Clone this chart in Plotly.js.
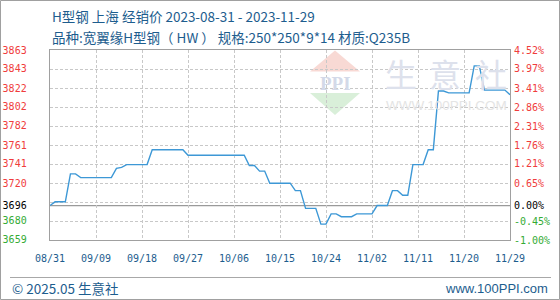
<!DOCTYPE html>
<html>
<head>
<meta charset="utf-8">
<script src="https://cdn.plot.ly/plotly-3.0.1.min.js"></script>
<style>
html,body{margin:0;padding:0;background:#fff;}
#chart{width:560px;height:300px;}
</style>
</head>
<body>
<div id="chart"></div>
<script>
// ---- data ----
const startDate = '2023-08-31';
const endDate = '2023-11-29';
const prices = [
  3696, 3700, 3700, 3700, 3730, 3730, 3726, 3726, 3726, 3726,
  3726, 3726, 3726, 3736, 3737, 3740, 3740, 3740, 3740, 3740,
  3756, 3756, 3756, 3756, 3756, 3756, 3756, 3750, 3750, 3750,
  3750, 3750, 3750, 3750, 3750, 3750, 3750, 3750, 3750, 3739,
  3739, 3733, 3733, 3720, 3720, 3720, 3720, 3720, 3712, 3712,
  3693, 3693, 3693, 3676, 3676, 3687, 3687, 3684, 3684, 3684,
  3687, 3687, 3687, 3687, 3696, 3696, 3696, 3712, 3712, 3707,
  3707, 3740, 3740, 3740, 3756, 3756, 3819, 3819, 3817, 3817,
  3817, 3817, 3817, 3846, 3846, 3820, 3820, 3820, 3820, 3820,
  3815
];
const basePrice = 3696;
const leftTickValues = [3659, 3680, 3696, 3720, 3741, 3761, 3782, 3802, 3822, 3843, 3863];
const rightTickValues = [-1.00, -0.45, 0.00, 0.65, 1.21, 1.76, 2.31, 2.86, 3.41, 3.97, 4.52];
const pctMin = -1.00, pctMax = 4.52, gridCount = 10;
const xTickStepDays = 9;
const title1 = 'H型钢 上海 经销价 2023-08-31 - 2023-11-29';
const title2 = '品种:宽翼缘H型钢（ HW ） 规格:250*250*9*14 材质:Q235B';
const footerLeft = '© 2025.05 生意社';
const footerRight = 'www.100PPI.com';

// ---- build ----
const dates = [];
{
  const d0 = new Date(startDate + 'T00:00:00Z');
  for (let i = 0; i < prices.length; i++) {
    const d = new Date(d0.getTime() + i * 86400000);
    dates.push(d.toISOString().slice(0, 10));
  }
}
const RED = '#f03c3c', GREEN = '#34ab34', BLACK = '#000000';
const colorFor = v => v > basePrice ? RED : (v < basePrice ? GREEN : BLACK);
const leftText = leftTickValues.map(v => `<span style="color:${colorFor(v)}">${v}</span>`);
const rightText = rightTickValues.map(p => {
  const c = p > 0 ? RED : (p < 0 ? GREEN : BLACK);
  return `<span style="color:${c}">${p.toFixed(2)}%</span>`;
});
const yMin = Math.min(basePrice * (1 + pctMin / 100), leftTickValues[0]) - 0.01;
const yMax = Math.max(basePrice * (1 + pctMax / 100), leftTickValues[leftTickValues.length - 1]) + 0.01;

// pixel helpers for layout decorations (plot area 50..510 x, 50..240 y)
const PL = 50, PR = 510, PT = 50, PB = 240;
const px = x => (x - PL) / (PR - PL);
const py = y => (PB - y) / (PB - PT);

const TXT = '#1d5d8e';
const tickFont = {family: 'DejaVu Sans Mono, monospace', size: 10};
const gridColor = '#c8c8c8';

const traces = [
  {x: dates, y: prices, type: 'scatter', mode: 'lines',
   line: {color: '#3d98d6', width: 1.4}, hoverinfo: 'skip', showlegend: false},
  {x: [dates[0]], y: [0], yaxis: 'y2', type: 'scatter', mode: 'none', hoverinfo: 'skip', showlegend: false},
  {x: [dates[0]], y: [0], yaxis: 'y3', type: 'scatter', mode: 'none', hoverinfo: 'skip', showlegend: false}
];

const annotations = [
  {text: title1, xref: 'paper', yref: 'paper', x: px(50), y: py(16), xanchor: 'left', yanchor: 'middle',
   showarrow: false, font: {family: 'Noto Sans CJK SC, sans-serif', size: 13.5, color: TXT}},
  {text: title2, xref: 'paper', yref: 'paper', x: px(50), y: py(37.5), xanchor: 'left', yanchor: 'middle',
   showarrow: false, font: {family: 'Noto Sans CJK SC, sans-serif', size: 13.5, color: TXT}},
  {text: footerLeft, xref: 'paper', yref: 'paper', x: px(10), y: py(288), xanchor: 'left', yanchor: 'middle',
   showarrow: false, font: {family: 'Noto Sans CJK SC, sans-serif', size: 13.5, color: TXT}},
  {text: footerRight, xref: 'paper', yref: 'paper', x: px(550), y: py(288), xanchor: 'right', yanchor: 'middle',
   showarrow: false, font: {family: 'Liberation Sans, sans-serif', size: 13, color: TXT}},
  // watermark
  {text: '<b>PPI</b>', xref: 'paper', yref: 'paper', x: px(335), y: py(83.5), xanchor: 'center', yanchor: 'middle',
   showarrow: false, font: {family: 'Liberation Serif, serif', size: 19, color: '#d3d9e8'}},
  {text: '生', xref: 'paper', yref: 'paper', x: px(400.5), y: py(73), xanchor: 'center', yanchor: 'middle',
   showarrow: false, font: {family: 'Noto Sans CJK SC, sans-serif', size: 32, color: '#dde1ec'}},
  {text: '意', xref: 'paper', yref: 'paper', x: px(445), y: py(73), xanchor: 'center', yanchor: 'middle',
   showarrow: false, font: {family: 'Noto Sans CJK SC, sans-serif', size: 32, color: '#dde1ec'}},
  {text: '社', xref: 'paper', yref: 'paper', x: px(491), y: py(73), xanchor: 'center', yanchor: 'middle',
   showarrow: false, font: {family: 'Noto Sans CJK SC, sans-serif', size: 32, color: '#dde1ec'}},
  {text: 'WWW.100PPI.COM', xref: 'paper', yref: 'paper', x: px(446), y: py(105), xanchor: 'center', yanchor: 'middle',
   showarrow: false, font: {family: 'Liberation Sans, sans-serif', size: 13.5, color: '#e4e4e4'}}
];

const shapes = [
  // outer frame
  {type: 'rect', xref: 'paper', yref: 'paper', x0: px(0.5), x1: px(559.5), y0: py(0.5), y1: py(299.5),
   line: {color: '#a0a0a0', width: 1}, layer: 'below'},
  // footer separator
  {type: 'line', xref: 'paper', yref: 'paper', x0: px(10), x1: px(551), y0: py(277.5), y1: py(277.5),
   line: {color: '#a8a8a8', width: 1}},
  // watermark backing (softens grid)
  {type: 'rect', xref: 'paper', yref: 'paper', x0: px(306), x1: px(509), y0: py(46), y1: py(118),
   fillcolor: 'rgba(255,255,255,0.55)', line: {width: 0}, layer: 'between'},
  {type: 'path', xref: 'paper', yref: 'paper',
   path: `M ${px(310)} ${py(71.5)} L ${px(335)} ${py(50.5)} L ${px(360)} ${py(71.5)} Z`,
   fillcolor: 'rgba(240,170,160,0.45)', line: {width: 0}, layer: 'between'},
  {type: 'path', xref: 'paper', yref: 'paper',
   path: `M ${px(310)} ${py(93)} L ${px(360)} ${py(93)} L ${px(335)} ${py(115)} Z`,
   fillcolor: 'rgba(170,220,170,0.45)', line: {width: 0}, layer: 'between'},
  // base price line
  {type: 'line', xref: 'paper', yref: 'y', x0: 0, x1: 1, y0: basePrice, y1: basePrice,
   line: {color: '#9a9a9a', width: 1.3}, layer: 'between'}
];

const layout = {
  width: 560, height: 300,
  margin: {l: PL, r: 560 - PR, t: PT, b: 300 - PB, pad: 0},
  paper_bgcolor: '#ffffff', plot_bgcolor: '#ffffff',
  showlegend: false,
  xaxis: {
    type: 'date', range: [startDate, endDate],
    tick0: startDate, dtick: xTickStepDays * 86400000, tickformat: '%m/%d',
    showgrid: true, gridcolor: gridColor, griddash: '3px,2px', gridwidth: 1,
    showline: true, linecolor: '#a0a0a0', linewidth: 1.3, mirror: true,
    ticks: '', zeroline: false, ticklabelstandoff: 9,
    tickfont: Object.assign({color: TXT}, tickFont), fixedrange: true
  },
  yaxis: {
    range: [yMin, yMax], tickmode: 'array', tickvals: leftTickValues, ticktext: leftText,
    showgrid: false, zeroline: false, ticks: '',
    showline: true, linecolor: '#a0a0a0', linewidth: 1.3, mirror: true,
    ticklabelstandoff: 20, tickfont: tickFont, fixedrange: true
  },
  yaxis2: {
    overlaying: 'y', side: 'right', range: [pctMin - 0.0001, pctMax + 0.0001],
    tickmode: 'array', tickvals: rightTickValues, ticktext: rightText,
    showgrid: false, zeroline: false, ticks: '', showline: false,
    ticklabelstandoff: 3, tickfont: tickFont, fixedrange: true
  },
  yaxis3: {
    overlaying: 'y', side: 'left', range: [pctMin, pctMax],
    tick0: pctMin, dtick: (pctMax - pctMin) / gridCount,
    showgrid: true, gridcolor: gridColor, griddash: '3px,2px', gridwidth: 1,
    showticklabels: false, zeroline: false, ticks: '', showline: false, fixedrange: true
  },
  annotations: annotations,
  shapes: shapes
};

Plotly.newPlot('chart', traces, layout, {staticPlot: true, displayModeBar: false});
</script>
</body>
</html>
